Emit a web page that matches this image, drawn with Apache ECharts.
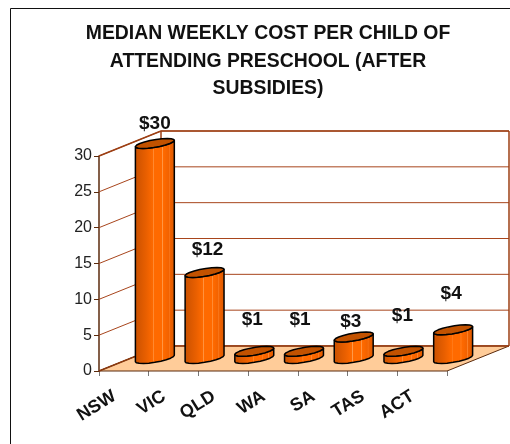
<!DOCTYPE html>
<html>
<head>
<meta charset="utf-8">
<style>html,body{margin:0;padding:0;background:#fff}#c{width:510px;height:444px}</style>
<script src="https://cdn.jsdelivr.net/npm/echarts@6/dist/echarts.min.js"></script>
</head>
<body>
<div id="c"></div>
<script>
var categories = ['NSW', 'VIC', 'QLD', 'WA', 'SA', 'TAS', 'ACT'];
var values = [30, 12, 1, 1, 3, 1, 4];
var valueLabels = ['$30', '$12', '$1', '$1', '$3', '$1', '$4'];
var yTicks = [0, 5, 10, 15, 20, 25, 30];
var titleText = 'MEDIAN WEEKLY COST PER CHILD OF\nATTENDING PRESCHOOL (AFTER\nSUBSIDIES)';

// oblique-projection depth of the chart box
var DX = 62, DY = -25;
var labelFont = 'bold 19px "Liberation Sans", Arial, sans-serif';
// hand-placed label nudges in the original [dx, height above bar top]
var labelNudge = [[0, 20], [3, 23], [-2, 32], [-4, 32], [-3, 15], [-1, 36], [-2, 36]];

function ringPoints(cx, cy, from, to, n) {
  var a = 15, b = 12.4, c = 5, pts = [];
  for (var i = 0; i <= n; i++) {
    var t = from + (to - from) * i / n;
    pts.push([cx + a * Math.cos(t) + b * Math.sin(t), cy - c * Math.sin(t)]);
  }
  return pts;
}

function renderWalls(params, api) {
  var v = api.value(0);
  var p = api.coord([0, v]);
  var band = api.size([1, 0])[0];
  var x0 = p[0] - band / 2;
  var x1 = x0 + band * categories.length;
  var y = p[1];
  var ln = {stroke: '#a8451c', lineWidth: 1};
  var kids = [
    {type: 'line', shape: {x1: x0, y1: y, x2: x0 + DX, y2: y + DY}, style: ln},
    {type: 'line', shape: {x1: x0 + DX, y1: y + DY, x2: x1 + DX, y2: y + DY}, style: ln}
  ];
  if (params.dataIndex === yTicks.length - 1) {
    var yb = api.coord([0, 0])[1] + DY;
    var heavy = {stroke: '#9c3f14', lineWidth: 1.5};
    kids.push({type: 'line', shape: {x1: x0 + DX, y1: y + DY, x2: x0 + DX, y2: yb}, style: heavy});
    kids.push({type: 'line', shape: {x1: x1 + DX, y1: y + DY, x2: x1 + DX, y2: yb}, style: heavy});
    kids.push({type: 'line', shape: {x1: x0, y1: y, x2: x0 + DX, y2: y + DY}, style: heavy});
    kids.push({type: 'line', shape: {x1: x0 + DX, y1: y + DY, x2: x1 + DX, y2: y + DY}, style: heavy});
  }
  return {type: 'group', children: kids};
}

function renderFloor(params, api) {
  var p = api.coord([0, 0]);
  var band = api.size([1, 0])[0];
  var x0 = p[0] - band / 2, x1 = x0 + band * categories.length, y = p[1];
  return {
    type: 'group',
    children: [
      {type: 'polygon', shape: {points: [[x0, y], [x1, y], [x1 + DX, y + DY], [x0 + DX, y + DY]]},
        style: {fill: '#ffcc99', stroke: '#5b2a0c', lineWidth: 1}},
      {type: 'line', shape: {x1: x0 + DX, y1: y + DY, x2: x1 + DX, y2: y + DY}, style: {stroke: '#9c3f14', lineWidth: 1.5}},
      {type: 'line', shape: {x1: x0, y1: y, x2: x0 + DX, y2: y + DY}, style: {stroke: '#8a3a10', lineWidth: 1.5}}
    ]
  };
}

function renderBar(params, api) {
  var i = params.dataIndex;
  var top = api.coord([i, api.value(1)]);
  var base = api.coord([i, 0]);
  var cx = top[0] + DX / 2, yt = top[1] + DY / 2, yb = base[1] + DY / 2;
  var aL = Math.atan2(-12.4, -15);
  // silhouette: lower half of the top ring and of the bottom ring
  var lowerTop = ringPoints(cx, yt, aL, aL + Math.PI, 10);
  var lowerBase = ringPoints(cx, yb, aL, aL + Math.PI, 10).reverse();
  var side = lowerTop.concat(lowerBase);
  var fullTop = ringPoints(cx, yt, 0, 2 * Math.PI, 20);
  var grad = {type: 'linear', x: 0, y: 0, x2: 1, y2: 0, colorStops: [
    {offset: 0, color: '#c85000'}, {offset: 0.28, color: '#e85f00'}, {offset: 0.46, color: '#ff6a00'},
    {offset: 0.47, color: '#ff9a4a'}, {offset: 0.49, color: '#ff6a00'}, {offset: 0.68, color: '#ff6a00'},
    {offset: 0.69, color: '#ff9a4a'}, {offset: 0.71, color: '#ff6a00'}, {offset: 0.84, color: '#f26200'},
    {offset: 0.85, color: '#ff8a33'}, {offset: 0.87, color: '#f26200'}, {offset: 1, color: '#d85800'}
  ]};
  var n = labelNudge[i];
  return {
    type: 'group',
    children: [
      {type: 'polygon', shape: {points: side}, style: {fill: grad, stroke: '#000', lineWidth: 1.5, lineJoin: 'round'}},
      {type: 'polygon', shape: {points: fullTop}, style: {fill: '#c25200', stroke: '#000', lineWidth: 1.5, lineJoin: 'round'}},
      {type: 'text', style: {text: valueLabels[i], x: cx + n[0], y: yt - n[1], align: 'center', verticalAlign: 'middle',
        font: labelFont, fill: '#111'}}
    ]
  };
}

var chart = echarts.init(document.getElementById('c'), null, {renderer: 'canvas'});
chart.setOption({
  animation: false,
  backgroundColor: '#fff',
  title: {
    text: titleText, left: 263, top: 15, textAlign: 'center',
    textStyle: {fontFamily: '"Liberation Sans", Arial, sans-serif', fontWeight: 'bold', fontSize: 19.4, lineHeight: 27.5, color: '#111'}
  },
  graphic: [{type: 'rect', shape: {x: 10.5, y: 8.5, width: 620, height: 560}, style: {fill: 'none', stroke: '#111', lineWidth: 1}, silent: true}],
  grid: {left: 99, top: 156, width: 348, height: 215, containLabel: false},
  xAxis: {
    type: 'category', data: categories,
    axisLine: {show: false},
    axisTick: {show: true, alignWithLabel: false, length: 5, lineStyle: {color: '#777', width: 1}},
    axisLabel: {interval: 0, rotate: 32, margin: 18, padding: [0, 11, 0, 0], fontFamily: '"Liberation Sans", Arial, sans-serif', fontWeight: 'bold', fontSize: 18, color: '#111'}
  },
  yAxis: {
    type: 'value', min: 0, max: 30, interval: 5,
    splitLine: {show: false},
    axisLine: {show: true, lineStyle: {color: '#5b2a0c', width: 1.5}},
    axisTick: {show: true, length: 5, lineStyle: {color: '#5b2a0c', width: 1}},
    axisLabel: {margin: 7, fontFamily: '"Liberation Sans", Arial, sans-serif', fontSize: 16, color: '#222'}
  },
  series: [
    {type: 'custom', renderItem: renderWalls, data: yTicks.map(function (t) { return [t]; }), encode: {y: 0}, silent: true, z: 1},
    {type: 'custom', renderItem: renderFloor, data: [[0]], encode: {y: 0}, silent: true, z: 2},
    {type: 'custom', renderItem: renderBar, data: values.map(function (v, i) { return [i, v]; }), encode: {x: 0, y: 1}, z: 3}
  ]
});
</script>
</body>
</html>
